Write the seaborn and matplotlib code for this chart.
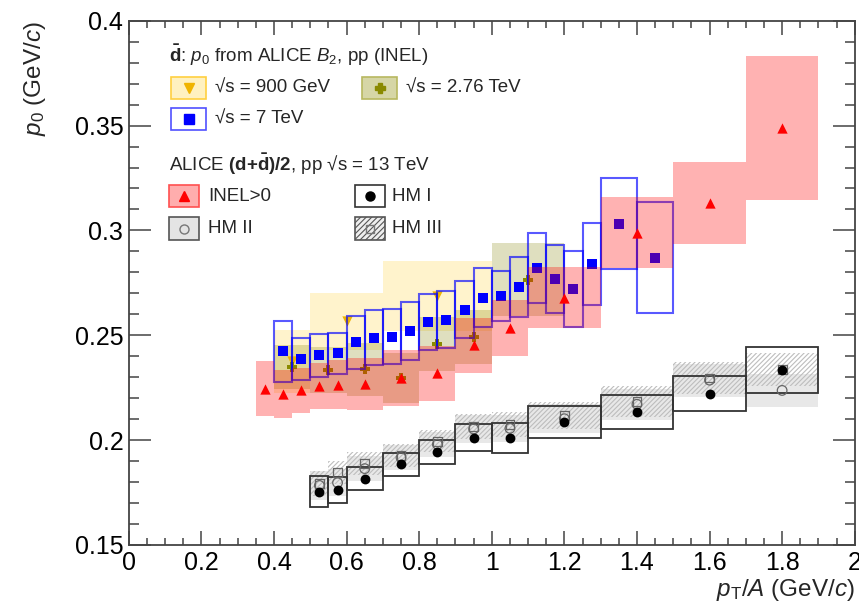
import numpy as np
import matplotlib
matplotlib.use("Agg")
import matplotlib.pyplot as plt
from matplotlib.patches import Rectangle
from matplotlib.ticker import MultipleLocator, FuncFormatter
import seaborn as sns

# ---------------- data ----------------
# ALICE (d+dbar)/2, pp 13 TeV, INEL>0
inel_lo = [0.35, 0.40, 0.45, 0.50, 0.55, 0.60, 0.70, 0.80, 0.90, 1.00, 1.10, 1.30, 1.50, 1.70]
inel_hi = [0.40, 0.45, 0.50, 0.55, 0.60, 0.70, 0.80, 0.90, 1.00, 1.10, 1.30, 1.50, 1.70, 1.90]
inel_val = [0.2245, 0.2221, 0.2238, 0.2257, 0.2265, 0.2270, 0.2297, 0.2318, 0.2452, 0.2535, 0.2680, 0.2989, 0.3130, 0.3490]
inel_sys = [0.0130, 0.0114, 0.0108, 0.0110, 0.0115, 0.0124, 0.0135, 0.0132, 0.0130, 0.0135, 0.0147, 0.0170, 0.0195, 0.0344]

# dbar B2, 900 GeV
g900_lo = [0.40, 0.50, 0.70]
g900_hi = [0.50, 0.70, 1.00]
g900_val = [0.2376, 0.2566, 0.2686]
g900_sys = [0.0149, 0.0136, 0.0166]

# dbar B2, 2.76 TeV
t276_lo = [0.40, 0.50, 0.60, 0.70, 0.80, 0.90, 1.00]
t276_hi = [0.50, 0.60, 0.70, 0.80, 0.90, 1.00, 1.20]
t276_val = [0.2350, 0.2335, 0.2338, 0.2295, 0.2459, 0.2492, 0.2765]
t276_sys = [0.0106, 0.0110, 0.0127, 0.0120, 0.0130, 0.0130, 0.0175]

# dbar B2, 7 TeV
t7_lo = [0.40, 0.45, 0.50, 0.55, 0.60, 0.65, 0.70, 0.75, 0.80, 0.85,
         0.90, 0.95, 1.00, 1.05, 1.10, 1.15, 1.20, 1.25, 1.30, 1.40]
t7_hi = [0.45, 0.50, 0.55, 0.60, 0.65, 0.70, 0.75, 0.80, 0.85, 0.90,
         0.95, 1.00, 1.05, 1.10, 1.15, 1.20, 1.25, 1.30, 1.40, 1.50]
t7_val = [0.2424, 0.2388, 0.2405, 0.2414, 0.2467, 0.2489, 0.2494, 0.2520, 0.2563, 0.2575,
          0.2622, 0.2680, 0.2686, 0.2730, 0.2821, 0.2769, 0.2721, 0.2840, 0.3033, 0.2870]
t7_sys = [0.0145, 0.0101, 0.0103, 0.0097, 0.0127, 0.0130, 0.0133, 0.0137, 0.0135, 0.0135,
          0.0135, 0.0140, 0.0120, 0.0141, 0.0165, 0.0163, 0.0180, 0.0195, 0.0215, 0.0265]

# High-multiplicity classes, pp 13 TeV
hm_lo = [0.50, 0.55, 0.60, 0.70, 0.80, 0.90, 1.00, 1.10, 1.30, 1.50, 1.70]
hm_hi = [0.55, 0.60, 0.70, 0.80, 0.90, 1.00, 1.10, 1.30, 1.50, 1.70, 1.90]
hm1_val = [0.1754, 0.1762, 0.1816, 0.1884, 0.1943, 0.2012, 0.2012, 0.2085, 0.2135, 0.2222, 0.2333]
hm1_sys = [0.0075, 0.0062, 0.0056, 0.0054, 0.0057, 0.0066, 0.0072, 0.0077, 0.0082, 0.0085, 0.0110]
hm2_val = [0.1784, 0.1797, 0.1864, 0.1916, 0.1980, 0.2053, 0.2056, 0.2102, 0.2171, 0.2286, 0.2237]
hm2_sys = [0.0070, 0.0065, 0.0060, 0.0060, 0.0060, 0.0065, 0.0065, 0.0070, 0.0075, 0.0078, 0.0080]
hm3_val = [0.1795, 0.1845, 0.1888, 0.1927, 0.1995, 0.2066, 0.2073, 0.2118, 0.2184, 0.2296, 0.2337]
hm3_sys = [0.0060, 0.0055, 0.0055, 0.0053, 0.0053, 0.0060, 0.0060, 0.0063, 0.0074, 0.0077, 0.0080]

# ---------------- style ----------------
sns.set_theme(style="ticks")
plt.rcParams["font.family"] = ["Liberation Sans", "DejaVu Sans"]
plt.rcParams["mathtext.fontset"] = "custom"
plt.rcParams["mathtext.rm"] = "Liberation Sans"
plt.rcParams["mathtext.it"] = "Liberation Sans:italic"
plt.rcParams["mathtext.bf"] = "Liberation Sans:bold"
plt.rcParams["hatch.linewidth"] = 0.8

fig = plt.figure(figsize=(8.59, 6.06), dpi=100)
ax = fig.add_axes([0.150, 0.1007, 0.845, 0.8651])


def centers(lo, hi):
    return [(a + b) / 2 for a, b in zip(lo, hi)]


def widths(lo, hi):
    return [b - a for a, b in zip(lo, hi)]


def boxes(lo, hi, val, sys, **kw):
    ax.bar(centers(lo, hi), [2 * s for s in sys],
           bottom=[v - s for v, s in zip(val, sys)],
           width=widths(lo, hi), align="center", **kw)


YEL_FILL = (1.0, 0.78, 0.0, 0.20)
YEL_MK = "#f0b400"
OLV_FILL = (0.50, 0.50, 0.0, 0.25)
OLV_MK = "#8a8a00"
PINK_FILL = (1.0, 0.0, 0.0, 0.30)
BLUE_EDGE = (0.0, 0.0, 1.0, 0.65)

# deuteron-bar B2 results
boxes(g900_lo, g900_hi, g900_val, g900_sys, color=YEL_FILL, linewidth=0, zorder=1)
boxes(t276_lo, t276_hi, t276_val, t276_sys, color=OLV_FILL, linewidth=0, zorder=1.1)
sns.scatterplot(x=centers(g900_lo, g900_hi), y=g900_val, marker="v", s=55,
                color=YEL_MK, linewidth=0, ax=ax, zorder=2)
sns.scatterplot(x=centers(t276_lo, t276_hi), y=t276_val, marker="P", s=45,
                color=OLV_MK, linewidth=0, ax=ax, zorder=2)
boxes(t7_lo, t7_hi, t7_val, t7_sys, facecolor="none", edgecolor=BLUE_EDGE,
      linewidth=1.5, zorder=2.5)
sns.scatterplot(x=centers(t7_lo, t7_hi), y=t7_val, marker="s", s=50,
                color="#0000ff", linewidth=0, ax=ax, zorder=2.6)

# INEL>0
boxes(inel_lo, inel_hi, inel_val, inel_sys, color=PINK_FILL, linewidth=0, zorder=3)
sns.scatterplot(x=centers(inel_lo, inel_hi), y=inel_val, marker="^", s=55,
                color="#ff0000", linewidth=0, ax=ax, zorder=4)

# HM classes
boxes(hm_lo, hm_hi, hm2_val, hm2_sys, color=(0.6, 0.6, 0.6, 0.22), linewidth=0, zorder=3)
boxes(hm_lo, hm_hi, hm3_val, hm3_sys, facecolor="none", edgecolor="#bdbdbd",
      hatch="///////", linewidth=0, zorder=3.1)
boxes(hm_lo, hm_hi, hm1_val, hm1_sys, facecolor="none", edgecolor="#333333",
      linewidth=1.3, zorder=3.2)
sns.scatterplot(x=centers(hm_lo, hm_hi), y=hm3_val, marker="s", s=40,
                facecolor="none", edgecolor="#666666", linewidth=0.9, ax=ax, zorder=4)
sns.scatterplot(x=centers(hm_lo, hm_hi), y=hm2_val, marker="o", s=48,
                facecolor="none", edgecolor="#666666", linewidth=0.9, ax=ax, zorder=4.1)
sns.scatterplot(x=centers(hm_lo, hm_hi), y=hm1_val, marker="o", s=50,
                color="black", linewidth=0, ax=ax, zorder=4.2)

# ---------------- axes ----------------
ax.set_xlim(0, 2)
ax.set_ylim(0.15, 0.4)
ax.xaxis.set_major_locator(MultipleLocator(0.2))
ax.xaxis.set_minor_locator(MultipleLocator(0.05))
ax.yaxis.set_major_locator(MultipleLocator(0.05))
ax.yaxis.set_minor_locator(MultipleLocator(0.01))
fmt = FuncFormatter(lambda v, p: "%g" % round(v, 3))
ax.xaxis.set_major_formatter(fmt)
ax.yaxis.set_major_formatter(fmt)
for s in ax.spines.values():
    s.set_visible(True)
    s.set_color("#444444")
    s.set_linewidth(1.3)
ax.tick_params(axis="both", which="both", direction="in", top=True, right=True,
               colors="#444444", labelcolor="black", width=1.1)
ax.tick_params(axis="x", which="major", length=10, labelsize=18, pad=4)
ax.tick_params(axis="x", which="minor", length=5)
ax.tick_params(axis="y", which="major", length=16, labelsize=18, pad=4)
ax.tick_params(axis="y", which="minor", length=7.5)

ax.set_xlabel(r"$p_{\mathrm{T}}/A$ (GeV/$c$)", fontsize=17.5, loc="right")
ax.xaxis.set_label_coords(1.0, -0.062)
ax.set_ylabel(r"$p_{0}$ (GeV/$c$)", fontsize=17.5, loc="top")
ax.yaxis.set_label_coords(-0.112, 1.0)

# ---------------- legend ----------------
T = ax.transAxes
fs = 13.5


def leg_entry(x0, y0, w, h, face, edge, marker, mcolor, mface, text, tx, hatch=None, ms=7):
    ax.add_patch(Rectangle((x0, y0), w, h, transform=T, facecolor=face, edgecolor=edge,
                           linewidth=1.2, hatch=hatch, zorder=6, clip_on=False))
    ax.plot([x0 + w / 2], [y0 + h / 2], marker=marker, color=mcolor, markerfacecolor=mface,
            markeredgecolor=mcolor, markersize=ms, markeredgewidth=1.0, linestyle="none",
            transform=T, zorder=7)
    ax.text(tx, y0 + h / 2, text, transform=T, fontsize=fs, va="center", ha="left", zorder=7)


ax.text(0.055, 0.934, r"$\mathbf{\bar{d}}$: $p_{0}$ from ALICE $B_{2}$, pp (INEL)",
        transform=T, fontsize=fs, va="center", ha="left")
leg_entry(0.0587, 0.850, 0.0482, 0.042, (1.0, 0.85, 0.3, 0.35), "#ffd040", "v", YEL_MK, YEL_MK,
          "√s = 900 GeV", 0.1185)
leg_entry(0.3213, 0.850, 0.0482, 0.042, (0.55, 0.55, 0.0, 0.35), "#b8b860", "P", OLV_MK, OLV_MK,
          "√s = 2.76 TeV", 0.3815)
leg_entry(0.0587, 0.791, 0.0482, 0.042, "white", "#5050ff", "s", "#0000ff", "#0000ff",
          "√s = 7 TeV", 0.1185, ms=6.5)

ax.text(0.055, 0.725, r"ALICE $\mathbf{(d{+}\bar{d})/2}$, pp √s = 13 TeV",
        transform=T, fontsize=fs, va="center", ha="left")
leg_entry(0.0550, 0.644, 0.0420, 0.043, (1.0, 0.0, 0.0, 0.32), "#ff5050", "^", "#ff0000", "#ff0000",
          "INEL>0", 0.1090)
leg_entry(0.3110, 0.644, 0.0420, 0.043, "white", "#333333", "o", "black", "black",
          "HM I", 0.3630, ms=6.5)
leg_entry(0.0550, 0.582, 0.0420, 0.043, "#e4e4e4", "#555555", "o", "#777777", "none",
          "HM II", 0.1090, ms=6.5)
leg_entry(0.3110, 0.582, 0.0420, 0.043, "#eeeeee", "#555555", "s", "#777777", "none",
          "HM III", 0.3630, hatch="//////", ms=6)

fig.savefig("out.png", dpi=100)
